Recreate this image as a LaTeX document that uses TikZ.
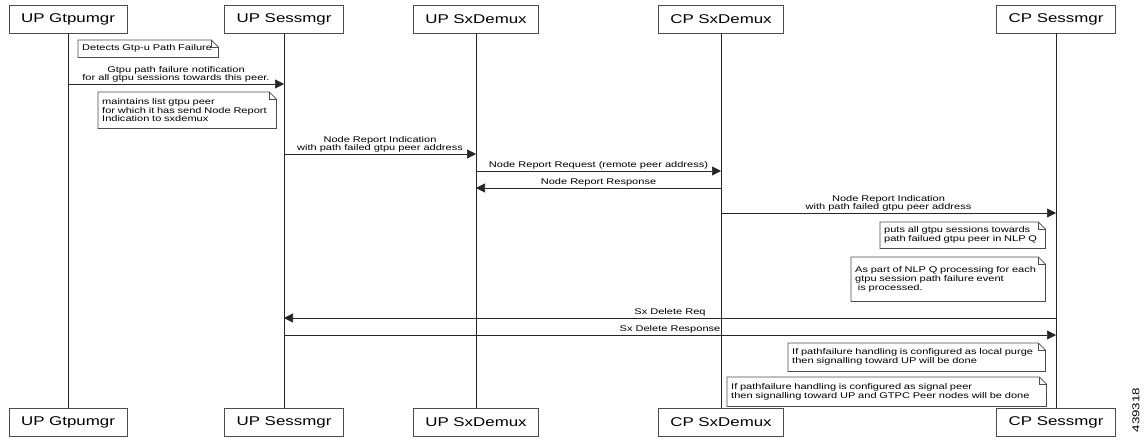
\documentclass[tikz,border=0pt]{standalone}
\usepackage{fontspec}
\setmainfont{Liberation Sans}[FakeStretch=1.33]
\usetikzlibrary{arrows.meta}

\tikzset{
  actor/.style={draw=black!70, line width=0.8pt, fill=white, inner xsep=12pt,
    inner ysep=0pt, minimum height=28pt, font=\fontsize{12.7}{14}\selectfont},
  lifeline/.style={draw=black!85, line width=0.8pt},
  msg/.style={draw=black!85, line width=0.7pt, -{Triangle[length=9pt,width=9pt]}},
  msgtext/.style={font=\fontsize{8.3}{8.6}\selectfont, align=center, inner sep=1pt},
  note/.style={fill=white, inner xsep=4pt, inner ysep=0pt, anchor=north west,
    align=left, font=\fontsize{8.3}{8.8}\selectfont},
  notebox/.style={draw=black!70, line width=0.7pt, line join=miter},
}
% folded corner round a note node
\newcommand{\dognote}[1]{%
  \draw[notebox] (#1.north west) -- ([xshift=-7pt]#1.north east)
    -- ([yshift=-7pt]#1.north east) -- (#1.south east) -- (#1.south west) -- cycle;
  \draw[notebox] ([xshift=-7pt]#1.north east) |- ([yshift=-7pt]#1.north east);}

\begin{document}
\begin{tikzpicture}[x=1pt,y=-1pt]
\useasboundingbox (0,0) rectangle (1147,440);

% heads
\node[actor] (upgtpu) at (68,19) {UP Gtpumgr};
\node[actor] (upsess) at (284,19) {UP Sessmgr};
\node[actor] (updmx) at (476,19) {UP SxDemux};
\node[actor] (cpdmx) at (721,19) {CP SxDemux};
\node[actor] (cpsess) at (1056,19) {CP Sessmgr};

% feet
\node[actor] (upgtpuf) at (68,422) {UP Gtpumgr};
\node[actor] (upsessf) at (284,422) {UP Sessmgr};
\node[actor] (updmxf) at (476,422) {UP SxDemux};
\node[actor] (cpdmxf) at (721,422) {CP SxDemux};
\node[actor] (cpsessf) at (1056,422) {CP Sessmgr};

% lifelines
\draw[lifeline] (upgtpu.south) -- (upgtpuf.north);
\draw[lifeline] (upsess.south) -- (upsessf.north);
\draw[lifeline] (updmx.south) -- (updmxf.north);
\draw[lifeline] (cpdmx.south) -- (cpdmxf.north);
\draw[lifeline] (cpsess.south) -- (cpsessf.north);

% rows of the messages
\coordinate (m1) at (0,84);
\coordinate (m2) at (0,154);
\coordinate (m3) at (0,171);
\coordinate (m4) at (0,188);
\coordinate (m5) at (0,213);
\coordinate (m6) at (0,318);
\coordinate (m7) at (0,335);

% notes
\node[note, text width=132pt, minimum height=17pt] (n1) at (78,40)
  {Detects Gtp-u Path Failure};
\dognote{n1}
\node[note, text width=170pt, minimum height=36pt] (n2) at (98,92)
  {maintains list gtpu peer\\for which it has send Node Report\\Indication to sxdemux};
\dognote{n2}
\node[note, text width=157pt, minimum height=26pt] (n3) at (880,222)
  {puts all gtpu sessions towards\\path failued gtpu peer in NLP Q};
\dognote{n3}
\node[note, text width=186pt, minimum height=44pt] (n4) at (851,257)
  {As part of NLP Q processing for each\\gtpu session path failure event\\\ is processed.\\[6pt]};
\dognote{n4}
\node[note, text width=249pt, minimum height=28pt] (n5) at (788,343)
  {If pathfailure handling is configured as local purge\\then signalling toward UP will be done};
\dognote{n5}
\node[note, text width=311pt, minimum height=29pt] (n6) at (727,377)
  {If pathfailure handling is configured as signal peer\\then signalling toward UP and GTPC Peer nodes will be done};
\dognote{n6}

% messages
\draw[msg] (upgtpu |- m1) -- (upsess |- m1)
  node[msgtext, midway, above] {Gtpu path failure notification\\for all gtpu sessions towards this peer.};
\draw[msg] (upsess |- m2) -- (updmx |- m2)
  node[msgtext, midway, above] {Node Report Indication\\with path failed gtpu peer address};
\draw[msg] (updmx |- m3) -- (cpdmx |- m3)
  node[msgtext, midway, above] {Node Report Request (remote peer address)};
\draw[msg] (cpdmx |- m4) -- (updmx |- m4)
  node[msgtext, midway, above] {Node Report Response};
\draw[msg] (cpdmx |- m5) -- (cpsess |- m5)
  node[msgtext, midway, above] {Node Report Indication\\with path failed gtpu peer address};
\draw[msg] (cpsess |- m6) -- (upsess |- m6)
  node[msgtext, midway, above] {Sx Delete Req};
\draw[msg] (upsess |- m7) -- (cpsess |- m7)
  node[msgtext, midway, above] {Sx Delete Response};

% figure number
\node[rotate=90, font=\fontsize{10}{12}\selectfont, inner sep=0pt] (fignum) at (1136,410) {439318};
\end{tikzpicture}
\end{document}
